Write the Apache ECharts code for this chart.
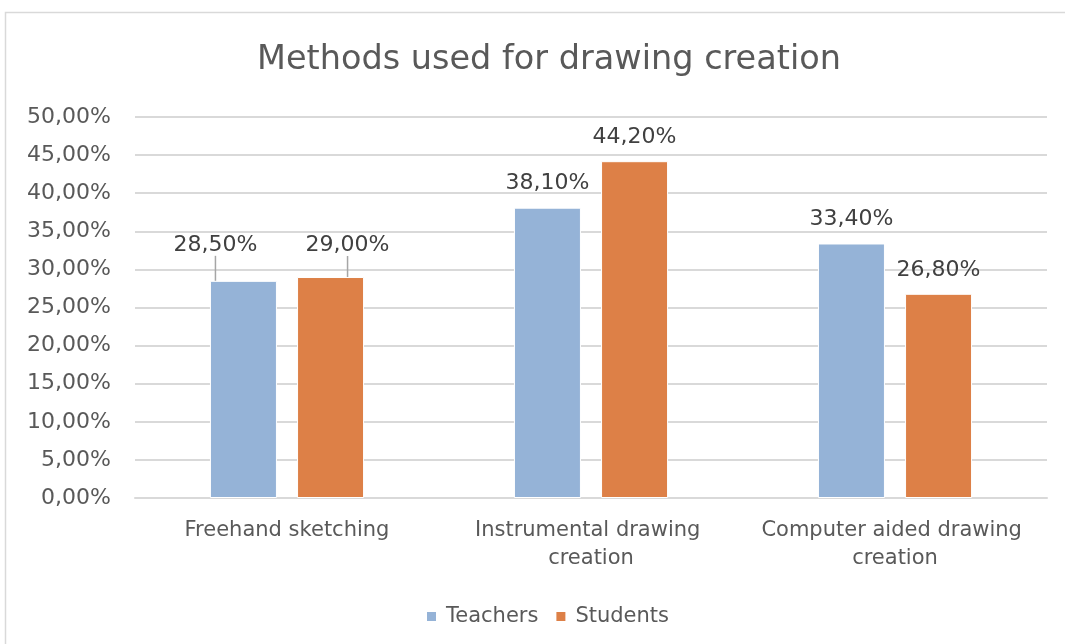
<!DOCTYPE html>
<html><head><meta charset="utf-8">
<script src="https://cdn.jsdelivr.net/npm/echarts@6/dist/echarts.min.js"></script>
<style>html,body{margin:0;padding:0;background:#fff}#c{width:1065px;height:644px}</style>
</head><body><div id="c"></div>
<script>
const categories = ['Freehand sketching', 'Instrumental drawing creation', 'Computer aided drawing creation'];
const seriesNames = ['Teachers', 'Students'];
const teachers = [28.5, 38.1, 33.4];
const students = [29.0, 44.2, 26.8];
const yTicks = [0, 5, 10, 15, 20, 25, 30, 35, 40, 45, 50];
const titleText = 'Methods used for drawing creation';

const FONT = 'DejaVu Sans';
const fmt = v => v.toFixed(2).replace('.', ',') + '%';

function items(vals, moved) {
  return vals.map((v, i) => moved[i] ? { value: v, labelLine: { show: true } } : { value: v });
}

const chart = echarts.init(document.getElementById('c'));
chart.setOption({
  animation: false,
  textStyle: { fontFamily: FONT },
  title: {
    text: titleText, left: 544, top: 38, textAlign: 'center',
    textStyle: { fontFamily: FONT, fontSize: 33.5, fontWeight: 'normal', color: '#595959' }
  },
  graphic: [{ type: 'rect', shape: { x: 5.5, y: 12.5, width: 1100, height: 700 }, style: { fill: 'none', stroke: '#d9d9d9', lineWidth: 1.5 }, silent: true }],
  legend: {
    data: seriesNames, bottom: 12, left: 420, itemWidth: 11, itemHeight: 11, itemGap: 16,
    icon: 'rect',
    textStyle: { fontFamily: FONT, fontSize: 21, color: '#595959', padding: [0, 0, 0, 4] }
  },
  grid: { left: 135, right: 18, top: 117, bottom: 146 },
  xAxis: {
    type: 'category', data: categories,
    axisLine: { show: true, lineStyle: { color: '#d9d9d9', width: 2 } },
    axisTick: { show: false },
    axisLabel: { interval: 0, margin: 19, width: 280, overflow: 'break', lineHeight: 28,
      fontFamily: FONT, fontSize: 21, color: '#595959' }
  },
  yAxis: {
    type: 'value', min: yTicks[0], max: yTicks[yTicks.length - 1], interval: yTicks[1] - yTicks[0],
    axisLine: { show: false }, axisTick: { show: false },
    splitLine: { lineStyle: { color: '#d9d9d9', width: 2 } },
    axisLabel: { formatter: v => fmt(v), margin: 24, fontFamily: FONT, fontSize: 22, color: '#595959' }
  },
  series: [
    {
      name: seriesNames[0], type: 'bar', data: items(teachers, [true, false, false]),
      barWidth: 67, barGap: '30%',
      itemStyle: { color: '#95b3d7', borderColor: '#ffffff', borderWidth: 1 },
      label: { show: true, position: 'top', distance: 13, formatter: p => fmt(p.value),
        fontFamily: FONT, fontSize: 22, color: '#404040' },
      labelLine: { show: false, lineStyle: { color: '#a6a6a6', width: 1.5 } },
      labelLayout: p => p.dataIndex === 0 ? { dx: -28, dy: -12 } : {}
    },
    {
      name: seriesNames[1], type: 'bar', data: items(students, [true, false, false]),
      barWidth: 67,
      itemStyle: { color: '#dd8047', borderColor: '#ffffff', borderWidth: 1 },
      label: { show: true, position: 'top', distance: 13, formatter: p => fmt(p.value),
        fontFamily: FONT, fontSize: 22, color: '#404040' },
      labelLine: { show: false, lineStyle: { color: '#a6a6a6', width: 1.5 } },
      labelLayout: p => p.dataIndex === 0 ? { dx: 17, dy: -8 } : {}
    }
  ]
});
</script></body></html>
